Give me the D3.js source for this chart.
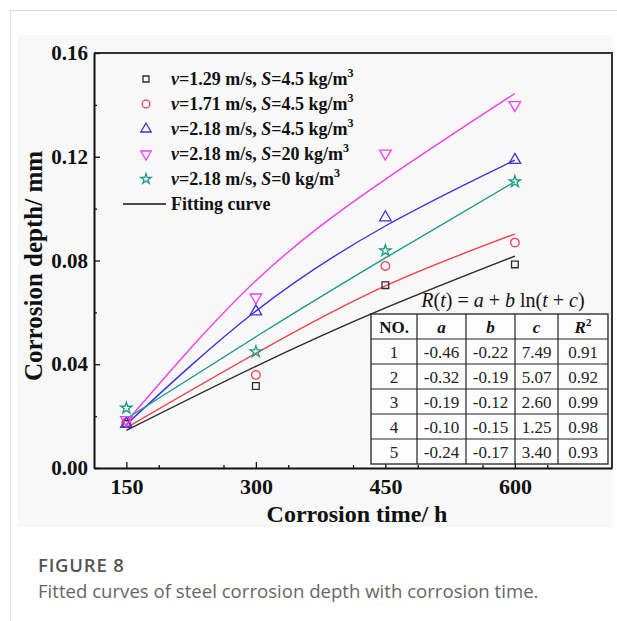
<!DOCTYPE html>
<html>
<head>
<meta charset="utf-8">
<script src="https://cdn.jsdelivr.net/npm/d3@7"></script>
<style>
  body { margin: 0; background: #fff; }
  svg { display: block; }
  .serif { font-family: "Liberation Serif", "Times New Roman", serif; }
</style>
</head>
<body>
<div id="chart"></div>
<script>
// ---- data ----
var times = [150, 300, 450, 600];

// measured corrosion depth (mm), one array per test condition
var depthV129S45 = [0.0170, 0.0316, 0.0705, 0.0785];
var depthV171S45 = [0.0175, 0.0359, 0.0779, 0.0869];
var depthV218S45 = [0.0170, 0.0603, 0.0966, 0.1187];
var depthV218S20 = [0.0185, 0.0658, 0.1213, 0.1400];
var depthV218S0  = [0.0231, 0.0448, 0.0838, 0.1104];

// fitted curve values at the same times
var fitV129S45 = [0.0145, 0.0392, 0.0617, 0.0817];
var fitV171S45 = [0.0155, 0.0442, 0.0702, 0.0902];
var fitV218S45 = [0.0168, 0.0605, 0.0933, 0.1187];
var fitV218S20 = [0.0178, 0.0722, 0.1113, 0.1444];
var fitV218S0  = [0.0190, 0.0506, 0.0810, 0.1104];

var legendV = ["1.29", "1.71", "2.18", "2.18", "2.18"];
var legendS = ["4.5", "4.5", "4.5", "20", "0"];

var xTicks = [150, 300, 450, 600];
var xMinorTicks = [187.5, 262.5, 337.5, 412.5, 487.5, 562.5, 637.5];
var yTicks = [0, 0.04, 0.08, 0.12, 0.16];
var yMinorTicks = [0.02, 0.06, 0.10, 0.14];

// fit parameter table
var tableNo = ["1", "2", "3", "4", "5"];
var tableA  = ["-0.46", "-0.32", "-0.19", "-0.10", "-0.24"];
var tableB  = ["-0.22", "-0.19", "-0.12", "-0.15", "-0.17"];
var tableC  = ["7.49", "5.07", "2.60", "1.25", "3.40"];
var tableR2 = ["0.91", "0.92", "0.99", "0.98", "0.93"];

// ---- layout ----
var width = 617, height = 621;
var plot = { left: 94, right: 612, top: 53, bottom: 468 };
var colors = ["#2a2a2a", "#f2404a", "#3a32dc", "#f23cf0", "#1a9a8c"];

var svg = d3.select("#chart").append("svg")
    .attr("width", width)
    .attr("height", height);

// page frame lines
svg.append("line").attr("x1", 10).attr("x2", width).attr("y1", 10.5).attr("y2", 10.5)
    .attr("stroke", "#dcdcdc");
svg.append("line").attr("x1", 10.5).attr("x2", 10.5).attr("y1", 10).attr("y2", height)
    .attr("stroke", "#dcdcdc");

// figure background
svg.append("rect").attr("x", 18).attr("y", 35).attr("width", 595).attr("height", 492)
    .attr("fill", "#f8f8f8");

var x = d3.scaleLinear().domain([112.5, 712.5]).range([plot.left, plot.right]);
var y = d3.scaleLinear().domain([0, 0.16]).range([plot.bottom, plot.top]);

// frame (top + right)
svg.append("path")
    .attr("d", "M" + plot.left + "," + plot.top + "H" + plot.right + "V" + plot.bottom)
    .attr("fill", "none").attr("stroke", "#333").attr("stroke-width", 2);

// x axis
var xAxis = svg.append("g")
    .attr("class", "serif")
    .attr("transform", "translate(0," + plot.bottom + ")")
    .call(d3.axisBottom(x).tickValues(xTicks).tickSize(-6).tickPadding(10).tickSizeOuter(0)
      .tickFormat(d3.format("d")));
svg.append("g")
    .attr("transform", "translate(0," + plot.bottom + ")")
    .call(d3.axisBottom(x).tickValues(xMinorTicks).tickSize(-3).tickFormat("").tickSizeOuter(0))
    .select(".domain").remove();

// y axis
var yAxis = svg.append("g")
    .attr("class", "serif")
    .attr("transform", "translate(" + plot.left + ",0)")
    .call(d3.axisLeft(y).tickValues(yTicks).tickSize(-6).tickPadding(6).tickSizeOuter(0)
      .tickFormat(d3.format(".2f")));
svg.append("g")
    .attr("transform", "translate(" + plot.left + ",0)")
    .call(d3.axisLeft(y).tickValues(yMinorTicks).tickSize(-3).tickFormat("").tickSizeOuter(0))
    .select(".domain").remove();

svg.selectAll(".domain").attr("stroke", "#111").attr("stroke-width", 2);
svg.selectAll(".tick line").attr("stroke", "#111").attr("stroke-width", 1.3);
xAxis.selectAll("text").attr("font-size", 22).attr("font-weight", "bold").attr("fill", "#111")
    .attr("font-family", "Liberation Serif, serif");
yAxis.selectAll("text").attr("font-size", 21).attr("font-weight", "bold").attr("fill", "#111")
    .attr("font-family", "Liberation Serif, serif");

// axis titles
svg.append("text").attr("class", "serif")
    .attr("x", 357).attr("y", 522)
    .attr("text-anchor", "middle").attr("font-size", 24).attr("font-weight", "bold")
    .attr("fill", "#111")
    .text("Corrosion time/ h");
svg.append("text").attr("class", "serif")
    .attr("transform", "translate(42,266) rotate(-90)")
    .attr("text-anchor", "middle").attr("font-size", 25).attr("font-weight", "bold")
    .attr("fill", "#111")
    .text("Corrosion depth/ mm");

// ---- series ----
var measured = [depthV129S45, depthV171S45, depthV218S45, depthV218S20, depthV218S0];
var fitted = [fitV129S45, fitV171S45, fitV218S45, fitV218S20, fitV218S0];

var symbols = [
  { type: d3.symbolSquare, size: 45, rot: 0 },
  { type: d3.symbolCircle, size: 58, rot: 0 },
  { type: d3.symbolTriangle, size: 58, rot: 0 },
  { type: d3.symbolTriangle, size: 58, rot: 180 },
  { type: d3.symbolStar, size: 40, rot: 0 }
];

var line = d3.line()
    .x(function(d) { return x(d[0]); })
    .y(function(d) { return y(d[1]); })
    .curve(d3.curveNatural);

fitted.forEach(function(vals, i) {
  svg.append("path")
      .datum(times.map(function(t, j) { return [t, vals[j]]; }))
      .attr("d", line)
      .attr("fill", "none")
      .attr("stroke", colors[i])
      .attr("stroke-width", 1.4);
});

measured.forEach(function(vals, i) {
  var sym = symbols[i];
  svg.append("g").selectAll("path")
      .data(times.map(function(t, j) { return [t, vals[j]]; }))
      .enter().append("path")
      .attr("d", d3.symbol().type(sym.type).size(sym.size))
      .attr("transform", function(d) {
        return "translate(" + x(d[0]) + "," + y(d[1]) + ") rotate(" + sym.rot + ")";
      })
      .attr("fill", "none")
      .attr("stroke", colors[i])
      .attr("stroke-width", 1.3);
});

// ---- legend ----
var legend = svg.append("g").attr("class", "serif");
var legendTop = 79, legendStep = 25;
legendV.forEach(function(v, i) {
  var yy = legendTop + i * legendStep;
  var sym = symbols[i];
  legend.append("path")
      .attr("d", d3.symbol().type(sym.type).size(sym.size * 0.8))
      .attr("transform", "translate(146," + yy + ") rotate(" + sym.rot + ")")
      .attr("fill", "none").attr("stroke", colors[i]).attr("stroke-width", 1.3);
  var t = legend.append("text")
      .attr("x", 171).attr("y", yy + 6)
      .attr("font-size", 18).attr("font-weight", "bold").attr("fill", "#111");
  t.append("tspan").attr("font-style", "italic").text("v");
  t.append("tspan").text("=" + v + " m/s, ");
  t.append("tspan").attr("font-style", "italic").text("S");
  t.append("tspan").text("=" + legendS[i] + " kg/m");
  t.append("tspan").attr("font-size", 12).attr("dy", -8).text("3");
});
var fitY = legendTop + 5 * legendStep;
legend.append("line").attr("x1", 123).attr("x2", 166).attr("y1", fitY).attr("y2", fitY)
    .attr("stroke", "#111").attr("stroke-width", 1.4);
legend.append("text").attr("x", 171).attr("y", fitY + 6)
    .attr("font-size", 18).attr("font-weight", "bold").attr("fill", "#111")
    .text("Fitting curve");

// ---- table ----
var table = svg.append("g").attr("class", "serif");
var colEdges = [371, 417, 466, 515, 558, 608];
var rowTop = 314, rowH = 25;
var nRows = tableNo.length + 1;

// formula
var f = table.append("text")
    .attr("x", 503).attr("y", 307)
    .attr("text-anchor", "middle").attr("font-size", 20).attr("fill", "#111");
f.append("tspan").attr("font-style", "italic").text("R");
f.append("tspan").text("(");
f.append("tspan").attr("font-style", "italic").text("t");
f.append("tspan").text(") = ");
f.append("tspan").attr("font-style", "italic").text("a");
f.append("tspan").text(" + ");
f.append("tspan").attr("font-style", "italic").text("b");
f.append("tspan").text(" ln(");
f.append("tspan").attr("font-style", "italic").text("t");
f.append("tspan").text(" + ");
f.append("tspan").attr("font-style", "italic").text("c");
f.append("tspan").text(")");

table.append("rect")
    .attr("x", colEdges[0]).attr("y", rowTop)
    .attr("width", colEdges[5] - colEdges[0]).attr("height", nRows * rowH)
    .attr("fill", "#fdfdfd").attr("stroke", "#222").attr("stroke-width", 1.3);
colEdges.slice(1, 5).forEach(function(cx) {
  table.append("line").attr("x1", cx).attr("x2", cx)
      .attr("y1", rowTop).attr("y2", rowTop + nRows * rowH)
      .attr("stroke", "#222").attr("stroke-width", 1.2);
});
d3.range(1, nRows).forEach(function(r) {
  table.append("line").attr("x1", colEdges[0]).attr("x2", colEdges[5])
      .attr("y1", rowTop + r * rowH).attr("y2", rowTop + r * rowH)
      .attr("stroke", "#222").attr("stroke-width", 1.2);
});

function colMid(c) { return (colEdges[c] + colEdges[c + 1]) / 2; }

// header
var headY = rowTop + rowH / 2 + 6;
table.append("text").attr("x", colMid(0)).attr("y", headY).attr("text-anchor", "middle")
    .attr("font-size", 17).attr("font-weight", "bold").attr("fill", "#111").text("NO.");
["a", "b", "c"].forEach(function(h, i) {
  table.append("text").attr("x", colMid(i + 1)).attr("y", headY).attr("text-anchor", "middle")
      .attr("font-size", 17).attr("font-weight", "bold").attr("font-style", "italic")
      .attr("fill", "#111").text(h);
});
var r2 = table.append("text").attr("x", colMid(4)).attr("y", headY).attr("text-anchor", "middle")
    .attr("font-size", 17).attr("font-weight", "bold").attr("fill", "#111");
r2.append("tspan").attr("font-style", "italic").text("R");
r2.append("tspan").attr("font-size", 11).attr("dy", -7).text("2");

// body
var columns = [tableNo, tableA, tableB, tableC, tableR2];
columns.forEach(function(col, c) {
  table.selectAll(null)
      .data(col)
      .enter().append("text")
      .attr("x", colMid(c))
      .attr("y", function(d, r) { return rowTop + (r + 1) * rowH + rowH / 2 + 6; })
      .attr("text-anchor", "middle")
      .attr("font-size", 17)
      .attr("fill", "#222")
      .text(function(d) { return d; });
});

// ---- caption ----
svg.append("text")
    .attr("x", 38).attr("y", 572)
    .attr("font-family", "Open Sans, Noto Sans, sans-serif")
    .attr("font-size", 18.5).attr("font-weight", 600).attr("fill", "#555")
    .attr("letter-spacing", 0.8)
    .text("FIGURE 8");
svg.append("text")
    .attr("x", 38).attr("y", 598)
    .attr("font-family", "Open Sans, Noto Sans, sans-serif")
    .attr("font-size", 18.6).attr("fill", "#666")
    .text("Fitted curves of steel corrosion depth with corrosion time.");
</script>
</body>
</html>
